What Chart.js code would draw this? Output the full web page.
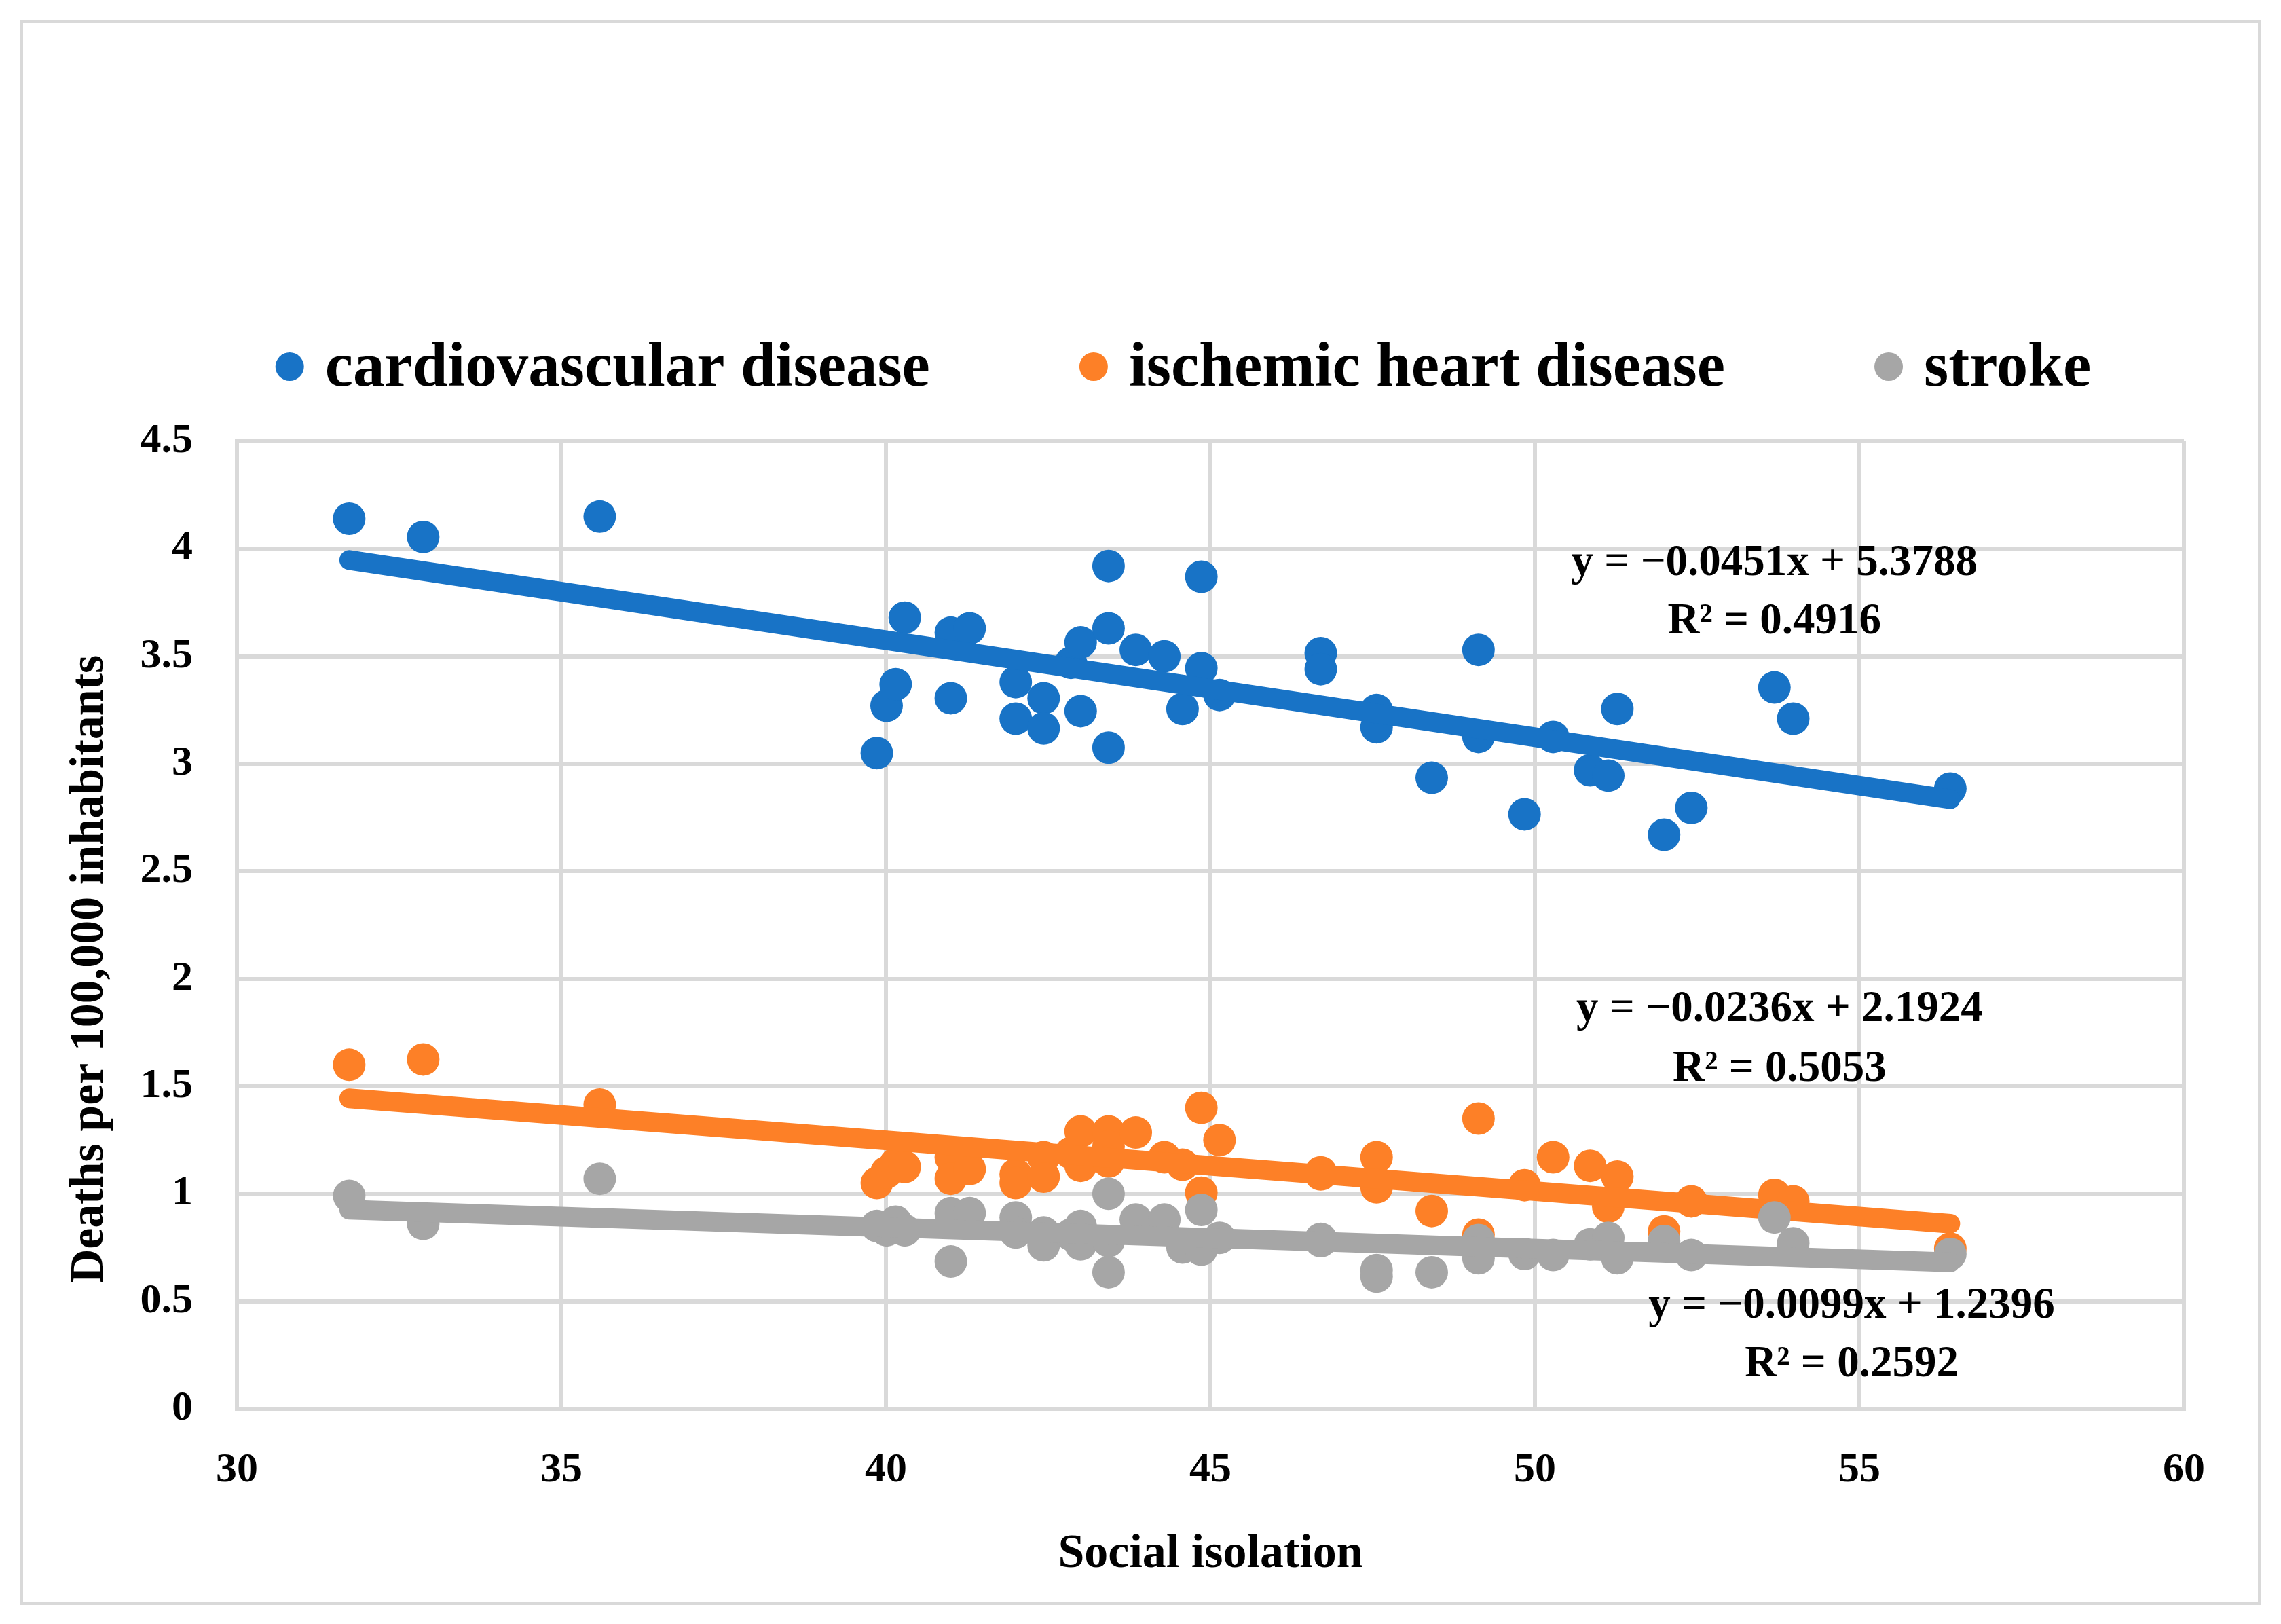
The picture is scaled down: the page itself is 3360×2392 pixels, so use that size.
<!DOCTYPE html>
<html><head><meta charset="utf-8">
<script src="https://cdn.jsdelivr.net/npm/chart.js@4.4.1/dist/chart.umd.min.js"></script>
<style>html,body{margin:0;padding:0;background:#fff}canvas{display:block}</style>
</head><body>
<canvas id="c" width="3360" height="2392"></canvas>
<script>
// ---- data ----
const socialIsolation = [31.73, 32.87, 35.59, 39.86, 40.01, 40.15, 40.29, 41.0, 41.0, 41.29,
  42.0, 42.0, 42.43, 42.43, 42.85, 43.0, 43.0, 43.43, 43.43, 43.43,
  43.85, 44.29, 44.57, 44.86, 44.86, 45.14, 46.7, 46.7, 47.56, 47.56,
  48.41, 49.13, 49.13, 49.84, 50.28, 50.85, 51.13, 51.27, 51.99, 52.41,
  53.69, 53.98, 56.4];
const cardiovascular = [4.14, 4.055, 4.15, 3.05, 3.27, 3.37, 3.68, 3.61, 3.305, 3.63,
  3.38, 3.21, 3.305, 3.165, 3.47, 3.565, 3.245, 3.92, 3.63, 3.075,
  3.53, 3.50, 3.255, 3.87, 3.445, 3.32, 3.515, 3.44, 3.25, 3.17,
  2.935, 3.53, 3.125, 2.765, 3.125, 2.97, 2.945, 3.255, 2.67, 2.795,
  3.355, 3.21, 2.885];
const ischemic = [1.60, 1.625, 1.415, 1.05, 1.10, 1.14, 1.125, 1.17, 1.07, 1.115,
  1.09, 1.05, 1.17, 1.08, 1.19, 1.29, 1.13, 1.29, 1.22, 1.15,
  1.285, 1.17, 1.135, 1.40, 1.005, 1.25, 1.10, 1.09, 1.17, 1.03,
  0.92, 1.35, 0.81, 1.04, 1.17, 1.13, 0.94, 1.08, 0.825, 0.965,
  0.995, 0.965, 0.745];
const stroke = [0.99, 0.86, 1.07, 0.85, 0.83, 0.87, 0.83, 0.91, 0.685, 0.91,
  0.89, 0.82, 0.82, 0.76, 0.81, 0.85, 0.765, 1.0, 0.78, 0.635,
  0.88, 0.88, 0.75, 0.925, 0.74, 0.795, 0.79, 0.78, 0.645, 0.615,
  0.635, 0.785, 0.70, 0.72, 0.715, 0.765, 0.795, 0.70, 0.78, 0.715,
  0.89, 0.77, 0.72];
const trendX = [31.73, 56.4];
const cardioTrend = [3.948, 2.835];
const ischemicTrend = [1.444, 0.861];
const strokeTrend = [0.926, 0.681];
const xTicks = [30, 35, 40, 45, 50, 55, 60];
const yTicks = [0, 0.5, 1, 1.5, 2, 2.5, 3, 3.5, 4, 4.5];
const seriesNames = ['cardiovascular disease', 'ischemic heart disease', 'stroke'];
const equations = ['y = \u22120.0451x + 5.3788', 'y = \u22120.0236x + 2.1924', 'y = \u22120.0099x + 1.2396'];
const rSquared = ['R\u00B2 = 0.4916', 'R\u00B2 = 0.5053', 'R\u00B2 = 0.2592'];
const xTitle = 'Social isolation';
const yTitle = 'Deaths per 100,000 inhabitants';

// ---- styles ----
const COLORS = ['#1873C6', '#FD8027', '#A6A6A6'];
const FONT = '"Liberation Serif", "Times New Roman", serif';
const GRID = '#D9D9D9';

const pts = arr => socialIsolation.map((x, i) => ({x: x, y: arr[i]}));
const line = arr => trendX.map((x, i) => ({x: x, y: arr[i]}));

function pointSet(i, arr, order) {
  return {label: seriesNames[i], data: pts(arr), backgroundColor: COLORS[i], borderWidth: 0,
    pointRadius: 24, pointHoverRadius: 24, showLine: false, order: order, isLegend: true};
}
function trendSet(i, arr, order) {
  return {label: seriesNames[i] + ' trend', data: line(arr), borderColor: COLORS[i], backgroundColor: COLORS[i],
    borderWidth: 29, borderCapStyle: 'round', pointRadius: 0, showLine: true, order: order, isLegend: false};
}

const frame = {
  id: 'frame',
  beforeDraw(chart) {
    const ctx = chart.ctx;
    ctx.save();
    ctx.fillStyle = '#fff';
    ctx.fillRect(0, 0, chart.width, chart.height);
    ctx.strokeStyle = GRID;
    ctx.lineWidth = 4;
    ctx.strokeRect(32, 32, chart.width - 64, chart.height - 62);
    ctx.restore();
  }
};

const legend = {
  id: 'customLegend',
  afterDraw(chart) {
    const ctx = chart.ctx, ca = chart.chartArea;
    const items = chart.data.datasets.filter(d => d.isLegend);
    ctx.save();
    ctx.font = 'bold 93px ' + FONT;
    const r = 21, gap = 31, itemGap = 220;
    const widths = items.map(d => 2 * r + gap + ctx.measureText(d.label).width);
    const total = widths.reduce((a, b) => a + b, 0) + itemGap * (items.length - 1);
    let x = (ca.left + ca.right) / 2 - 40 - total / 2;
    const y = ca.top - 110;
    ctx.textBaseline = 'middle';
    ctx.textAlign = 'left';
    items.forEach((d, i) => {
      ctx.fillStyle = d.backgroundColor;
      ctx.beginPath();
      ctx.arc(x + r, y, r, 0, Math.PI * 2);
      ctx.fill();
      ctx.fillStyle = '#000';
      ctx.fillText(d.label, x + 2 * r + gap, y + 4);
      x += widths[i] + itemGap;
    });
    ctx.restore();
  }
};

const annotations = {
  id: 'equations',
  afterDatasetsDraw(chart, args, opts) {
    const ctx = chart.ctx, xs = chart.scales.x, ys = chart.scales.y, ca = chart.chartArea;
    ctx.save();
    ctx.font = 'bold 65px ' + FONT;
    ctx.fillStyle = '#000';
    ctx.textAlign = 'center';
    ctx.textBaseline = 'middle';
    opts.anchors.forEach((a, i) => {
      ctx.fillText(equations[i], xs.getPixelForValue(a.x), ys.getPixelForValue(a.yEq));
      ctx.fillText(rSquared[i], xs.getPixelForValue(a.x), ys.getPixelForValue(a.yR2));
    });
    // vertical axis title (offset slightly below the plot centre, as in the original)
    ctx.font = 'bold 70px ' + FONT;
    ctx.translate(133, (ca.top + ca.bottom) / 2 + 65);
    ctx.rotate(-Math.PI / 2);
    ctx.fillText(yTitle, 0, 0);
    ctx.restore();
  }
};

new Chart(document.getElementById('c'), {
  type: 'scatter',
  data: {
    datasets: [
      pointSet(0, cardiovascular, 6), trendSet(0, cardioTrend, 5),
      pointSet(1, ischemic, 4), trendSet(1, ischemicTrend, 3),
      pointSet(2, stroke, 2), trendSet(2, strokeTrend, 1)
    ]
  },
  plugins: [frame, legend, annotations],
  options: {
    responsive: false,
    devicePixelRatio: 1,
    animation: false,
    events: [],
    layout: {padding: {left: 40, right: 143, top: 650, bottom: 40}},
    plugins: {
      legend: {display: false},
      tooltip: {enabled: false},
      equations: {anchors: [
        {x: 53.69, yEq: 3.93, yR2: 3.66},
        {x: 53.77, yEq: 1.857, yR2: 1.579},
        {x: 54.88, yEq: 0.477, yR2: 0.205}
      ]}
    },
    scales: {
      x: {
        type: 'linear', min: 30, max: 60,
        afterFit: s => { s.height = 277; },
        afterBuildTicks: s => { s.ticks = xTicks.map(v => ({value: v})); },
        grid: {color: GRID, lineWidth: 6, drawTicks: false},
        border: {color: GRID, width: 6},
        ticks: {color: '#000', padding: 54, font: {family: FONT, size: 62, weight: 'bold'}, callback: v => String(v)},
        title: {display: true, text: xTitle, color: '#000', padding: {top: 0, bottom: 20},
          font: {family: FONT, size: 70, weight: 'bold'}}
      },
      y: {
        type: 'linear', min: 0, max: 4.5,
        afterFit: s => { s.width = 309; },
        afterBuildTicks: s => { s.ticks = yTicks.map(v => ({value: v})); },
        grid: {color: GRID, lineWidth: 6, drawTicks: false},
        border: {color: GRID, width: 6},
        ticks: {color: '#000', padding: 65, font: {family: FONT, size: 62, weight: 'bold'}, callback: v => String(v)},
        title: {display: false}
      }
    }
  }
});
</script>
</body></html>
